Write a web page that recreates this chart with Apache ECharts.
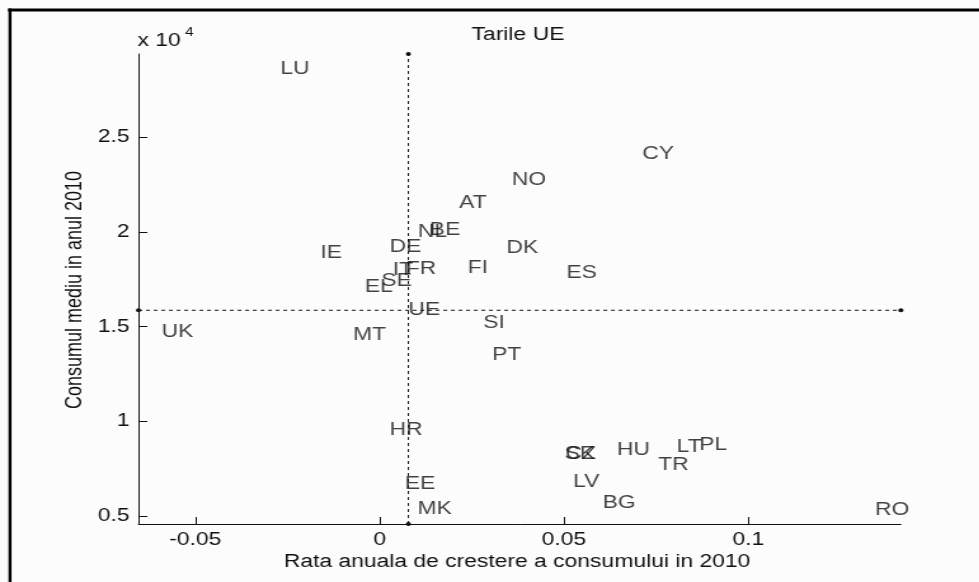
<!DOCTYPE html>
<html>
<head>
<meta charset="utf-8">
<title>Tarile UE</title>
<script src="https://cdn.jsdelivr.net/npm/echarts@6/dist/echarts.min.js"></script>
<style>
  html, body { margin: 0; padding: 0; background: #fff; overflow: hidden; }
  #chart { height: 582px; transform-origin: 0 0; }
</style>
</head>
<body>
<div id="chart"></div>
<script>
// country codes and their values (growth rate 2010, mean consumption 2010)
const countries = ['LU', 'IE', 'DE', 'NL', 'BE', 'AT', 'IT', 'FR', 'FI', 'SE', 'EL',
  'CY', 'NO', 'DK', 'ES', 'UK', 'MT', 'UE', 'HR', 'EE', 'MK', 'SI', 'PT',
  'SK', 'CZ', 'HU', 'LT', 'PL', 'TR', 'LV', 'BG', 'RO']
const growthRate = [-0.0269, -0.0161, 0.0027, 0.0104, 0.0136, 0.0216, 0.0036, 0.0071, 0.0239, 0.0005, -0.0040,
  0.0713, 0.0359, 0.0344, 0.0507, -0.0591, -0.0072, 0.0078, 0.0027, 0.0068, 0.0103, 0.0281, 0.0305,
  0.0502, 0.0504, 0.0644, 0.0806, 0.0867, 0.0756, 0.0525, 0.0605, 0.1344]
const consumption = [28600, 18880, 19220, 20020, 20110, 21520, 18000, 18030, 18080, 17430, 17110,
  24100, 22740, 19140, 17820, 14740, 14570, 15868, 9540, 6720, 5380, 15210, 13510,
  8270, 8290, 8500, 8670, 8740, 7700, 6820, 5680, 5330]

const xTicks = [-0.05, 0, 0.05, 0.1]
const yTicks = [5000, 10000, 15000, 20000, 25000]
const xRange = [-0.0654, 0.1414]
const yRange = [4591, 29390]
const meanPoint = [0.0078, 15868]

// the reference picture is stretched sideways, so the chart is too
const STRETCH = 1.27
const W = 979 / STRETCH
const sx = (px) => px / STRETCH

const el = document.getElementById('chart')
el.style.width = W + 'px'
el.style.transform = `scaleX(${STRETCH})`

const FONT = '"Liberation Sans", Arial, sans-serif'
const INK = '#111'

const chart = echarts.init(el)

const meanLine = (data) => ({
  type: 'line',
  data,
  clip: false,
  silent: true,
  symbol: 'circle',
  symbolSize: 4,
  itemStyle: { color: '#111' },
  lineStyle: { color: '#111', width: 1, type: [3, 3] },
  z: 1,
})

const text = (str, x, y, extra) => ({
  type: 'text',
  x,
  y,
  silent: true,
  ...extra,
  style: {
    text: str,
    fill: INK,
    fontSize: 18,
    fontFamily: FONT,
    align: 'center',
    verticalAlign: 'middle',
    ...(extra && extra.style),
  },
})

chart.setOption({
  animation: false,
  backgroundColor: '#fcfcfc',
  grid: {
    left: sx(138.5),
    right: W - sx(900.7),
    top: 54,
    bottom: 58,
    containLabel: false,
    outerBoundsMode: 'none',
  },
  xAxis: {
    type: 'value',
    min: xRange[0],
    max: xRange[1],
    splitLine: { show: false },
    axisLine: { show: true, onZero: false, lineStyle: { color: INK, width: 1 } },
    axisTick: { show: true, inside: true, length: 7, customValues: xTicks, lineStyle: { color: INK } },
    axisLabel: {
      customValues: xTicks,
      margin: 7,
      color: INK,
      fontSize: 18,
      fontFamily: FONT,
      formatter: (v) => String(v),
    },
  },
  yAxis: {
    type: 'value',
    min: yRange[0],
    max: yRange[1],
    splitLine: { show: false },
    axisLine: { show: true, onZero: false, lineStyle: { color: INK, width: 1 } },
    axisTick: { show: true, inside: true, length: 7, customValues: yTicks, lineStyle: { color: INK } },
    axisLabel: {
      customValues: yTicks,
      margin: 7,
      color: INK,
      fontSize: 18,
      fontFamily: FONT,
      formatter: (v) => String(v / 10000),
    },
  },
  graphic: [
    { type: 'rect', silent: true, shape: { x: sx(8), y: 8.5, width: W, height: 3 }, style: { fill: '#000' } },
    { type: 'rect', silent: true, shape: { x: sx(8.5), y: 8.5, width: sx(3), height: 600 }, style: { fill: '#000' } },
    text('Tarile UE', sx(518), 35),
    text('x 10', sx(137.5), 41.5, { style: { align: 'left' } }),
    text('4', sx(185), 33, { style: { align: 'left', fontSize: 12 } }),
    text('Consumul mediu in anul 2010', sx(75), 290, { rotation: Math.PI / 2 }),
    text('Rata anuala de crestere a consumului in 2010', sx(517), 562.5),
  ],
  series: [
    meanLine([[xRange[0], meanPoint[1]], [xRange[1], meanPoint[1]]]),
    meanLine([[meanPoint[0], yRange[0]], [meanPoint[0], yRange[1]]]),
    {
      type: 'scatter',
      silent: true,
      symbolSize: 0,
      itemStyle: { color: 'transparent' },
      data: countries.map((name, i) => ({ name, value: [growthRate[i], consumption[i]] })),
      label: {
        show: true,
        position: 'right',
        distance: 0,
        formatter: '{b}',
        color: INK,
        fontSize: 18,
        fontFamily: FONT,
      },
      z: 3,
    },
  ],
})
</script>
</body>
</html>
